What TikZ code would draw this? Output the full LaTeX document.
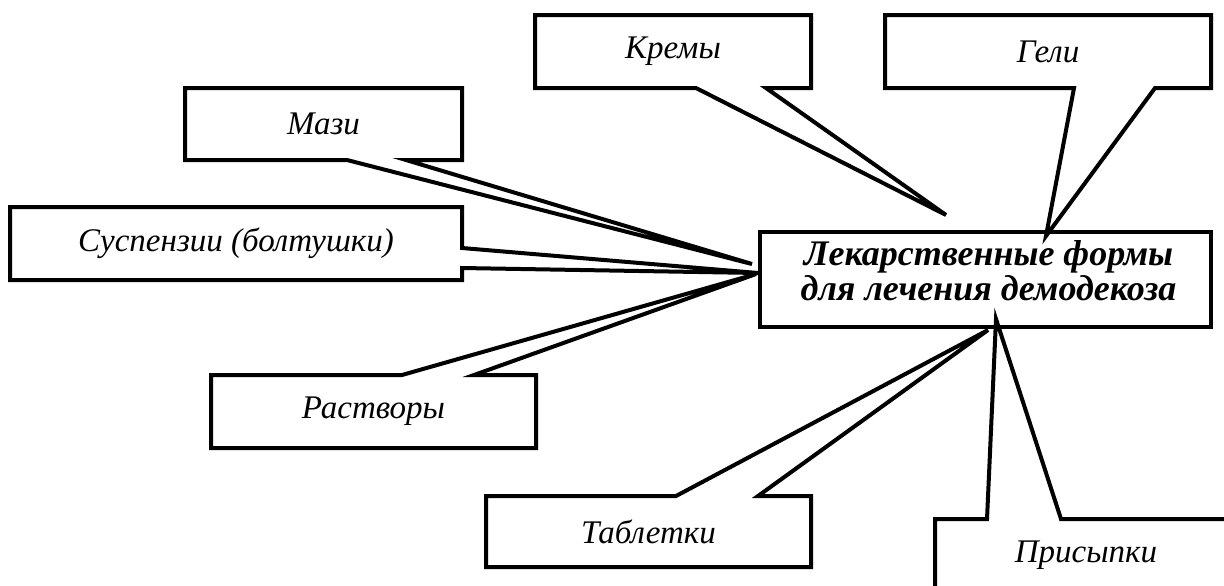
\documentclass[tikz,border=0pt]{standalone}
\usepackage{fontspec}
\setmainfont{Liberation Serif}
\usetikzlibrary{calc}

\begin{document}
\begin{tikzpicture}[
    x=0.5pt,y=-0.5pt,
    form/.style={rectangle,inner sep=0pt,outer sep=0pt,
      minimum height=36.5pt,font=\fontsize{16.5}{18}\selectfont\itshape},
    co/.style={line width=2pt,line join=miter}
  ]
  \useasboundingbox (0,0) rectangle (1224,585);
  \clip (0,0) rectangle (1224,585);

  % central box
  \node[rectangle,draw,line width=2pt,inner sep=0pt,
    minimum width=225.5pt,minimum height=47.5pt]
    (forms) at (985.5,279.5) {};
  \node[align=center,inner sep=0pt,
    font=\fontsize{18}{16}\selectfont\bfseries\itshape]
    (formstxt) at ($(forms.center)+(3,-9)$)
    {Лекарственные формы\\для лечения демодекоза};

  % tips of the pointers
  \coordinate (tkrem) at ($(forms.north west)+(188,-15)$);
  \coordinate (tgel)  at ($(forms.north west)+(288,6)$);
  \coordinate (tmaz)  at ($(forms.north west)+(-6,34)$);
  \coordinate (tsusp) at ($(forms.north west)+(0,43)$);
  \coordinate (trast) at ($(forms.north west)+(-2,44)$);
  \coordinate (ttabl) at ($(forms.south west)+(230,1)$);
  \coordinate (tpris) at ($(forms.south west)+(238,-10)$);

  % the forms
  \node[form,minimum width=138pt] (krem) at (673,51.5) {Кремы};
  \node[form,minimum width=163pt] (gel) at (1048,51.5) {Гели};
  \node[form,minimum width=138.5pt,minimum height=36pt] (maz) at (323.5,124) {Мази};
  \node[form,minimum width=226pt] (susp) at (236,243.5) {Суспензии (болтушки)};
  \node[form,minimum width=162.5pt] (rast) at (373.5,411.5) {Растворы};
  \node[form,minimum width=162.5pt,minimum height=35.5pt] (tabl) at (648.5,531.5) {Таблетки};
  \node[form,minimum width=151pt] (pris) at (1086,555.5) {Присыпки};

  % callout outlines
  \draw[co] (krem.north west) -- (krem.north east) -- (krem.south east)
    -- ($(krem.south west)+(231,0)$) -- (tkrem)
    -- ($(krem.south west)+(161,0)$) -- (krem.south west) -- cycle;
  \draw[co] (gel.north west) -- (gel.north east) -- (gel.south east)
    -- ($(gel.south west)+(270,0)$) -- (tgel)
    -- ($(gel.south west)+(189,0)$) -- (gel.south west) -- cycle;
  \draw[co] (maz.north west) -- (maz.north east) -- (maz.south east)
    -- ($(maz.south west)+(221,0)$) -- (tmaz)
    -- ($(maz.south west)+(162,0)$) -- (maz.south west) -- cycle;
  \draw[co] (susp.north west) -- (susp.north east)
    -- ($(susp.north east)+(0,41)$) -- (tsusp)
    -- ($(susp.north east)+(0,61)$) -- (susp.south east)
    -- (susp.south west) -- cycle;
  \draw[co] (rast.south west) -- (rast.north west)
    -- ($(rast.north west)+(191,0)$) -- (trast)
    -- ($(rast.north west)+(263,0)$) -- (rast.north east)
    -- (rast.south east) -- cycle;
  \draw[co] (tabl.south west) -- (tabl.north west)
    -- ($(tabl.north west)+(190,0)$) -- (ttabl)
    -- ($(tabl.north west)+(272,0)$) -- (tabl.north east)
    -- (tabl.south east) -- cycle;
  \draw[co] (pris.south west) -- (pris.north west)
    -- ($(pris.north west)+(52,0)$) -- (tpris)
    -- ($(pris.north west)+(126,0)$) -- (pris.north east)
    -- (pris.south east) -- cycle;
\end{tikzpicture}
\end{document}
